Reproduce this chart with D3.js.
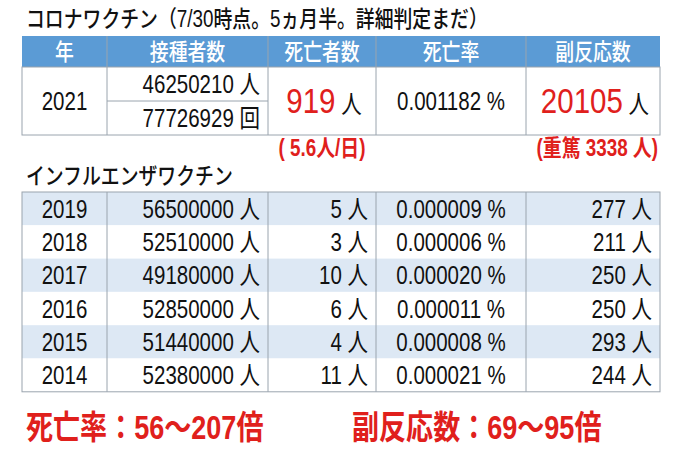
<!DOCTYPE html>
<html><head><meta charset="utf-8">
<script src="https://cdn.jsdelivr.net/npm/d3@7"></script>
<style>
body{margin:0;background:#fff}
text{font-family:"Liberation Sans","Noto Sans CJK JP",sans-serif}
</style></head>
<body><svg id="chart" width="680" height="453"></svg>
<script>
// data
const headers = ["年", "接種者数", "死亡者数", "死亡率", "副反応数"];
const covid = {year: "2021", vaccinated: ["46250210 人", "77726929 回"], deaths: "919", rate: "0.001182 %", adverse: "20105"};
const fluYears = ["2019", "2018", "2017", "2016", "2015", "2014"];
const fluVaccinated = [56500000, 52510000, 49180000, 52850000, 51440000, 52380000];
const fluDeaths = [5, 3, 10, 6, 4, 11];
const fluRate = ["0.000009", "0.000006", "0.000020", "0.000011", "0.000008", "0.000021"];
const fluAdverse = [277, 211, 250, 250, 293, 244];

let svg = d3.select("svg#chart");
const cols = [22, 107, 268, 376, 526, 660];
const red = "#e0201c", blue = "#5b9bd5", light = "#dde8f4", line = "#9aa4ae";
const cjk = "'Noto Sans CJK JP',sans-serif";
const sx = 0.82; // condensed look

// text helper: squeezed horizontally
function txt(x, y, s, size, anchor, fill) {
  return svg.append("text").attr("transform", "translate(" + x + "," + y + ") scale(" + sx + ",1)")
    .attr("font-size", size).attr("text-anchor", anchor || "start").attr("fill", fill || "#111").text(s);
}

// title
txt(26, 27, "コロナワクチン（7/30時点。5ヵ月半。詳細判定まだ）", 23).attr("font-family", cjk).attr("font-weight", 500);

// header
const hy = 36, hh = 31;
svg.append("rect").attr("x", cols[0]).attr("y", hy).attr("width", cols[5] - cols[0]).attr("height", hh).attr("fill", blue);
headers.forEach((h, i) => {
  txt((cols[i] + cols[i + 1]) / 2, hy + hh / 2 + 8, h, 23, "middle", "#fff").attr("font-family", cjk).attr("font-weight", 500);
});
// covid rows
const ry = hy + hh, rh = 34;
const mid = ry + rh;
svg.append("rect").attr("x", cols[0]).attr("y", ry).attr("width", cols[5] - cols[0]).attr("height", rh * 2)
  .attr("fill", "#fff").attr("stroke", line);
cols.slice(1, 5).forEach(c => svg.append("line").attr("x1", c).attr("x2", c).attr("y1", hy).attr("y2", ry + rh * 2).attr("stroke", line));
svg.append("line").attr("x1", cols[1]).attr("x2", cols[2]).attr("y1", mid).attr("y2", mid).attr("stroke", line);

txt((cols[0] + cols[1]) / 2, mid + 9, covid.year, 25, "middle");
covid.vaccinated.forEach((v, i) => txt(cols[2] - 8, ry + rh * i + rh / 2 + 9, v, 25, "end"));
let t = txt((cols[2] + cols[3]) / 2 + 2, mid + 12, "", 25, "middle");
t.append("tspan").attr("font-size", 36).attr("fill", red).text(covid.deaths);
t.append("tspan").text(" 人");
txt((cols[3] + cols[4]) / 2, mid + 9, covid.rate, 25, "middle");
t = txt((cols[4] + cols[5]) / 2 + 2, mid + 12, "", 25, "middle");
t.append("tspan").attr("font-size", 36).attr("fill", red).text(covid.adverse);
t.append("tspan").text(" 人");

txt((cols[2] + cols[3]) / 2, 156, "( 5.6人/日)", 23, "middle", red).attr("font-weight", "bold");
txt(cols[5] - 2, 156, "(重篤 3338 人)", 23, "end", red).attr("font-weight", "bold");

// influenza
txt(26, 184, "インフルエンザワクチン", 23).attr("font-family", cjk).attr("font-weight", 500);

const fy = 192, fh = 33.3;
const yScale = d3.scaleBand().domain(fluYears).range([fy, fy + fh * fluYears.length]);
fluYears.forEach((y, i) => {
  const top = yScale(y), base = top + yScale.bandwidth() / 2 + 9;
  svg.append("rect").attr("x", cols[0]).attr("y", top).attr("width", cols[5] - cols[0]).attr("height", yScale.bandwidth())
    .attr("fill", i % 2 === 0 ? light : "#fff");
  txt((cols[0] + cols[1]) / 2, base, y, 25, "middle");
  txt(cols[2] - 8, base, fluVaccinated[i] + " 人", 25, "end");
  txt(cols[3] - 8, base, fluDeaths[i] + " 人", 25, "end");
  txt((cols[3] + cols[4]) / 2, base, fluRate[i] + " %", 25, "middle");
  txt(cols[5] - 8, base, fluAdverse[i] + " 人", 25, "end");
});
const fb = fy + fh * fluYears.length;
svg.append("rect").attr("x", cols[0]).attr("y", fy).attr("width", cols[5] - cols[0]).attr("height", fb - fy)
  .attr("fill", "none").attr("stroke", line);
cols.slice(1, 5).forEach(c => svg.append("line").attr("x1", c).attr("x2", c).attr("y1", fy).attr("y2", fb).attr("stroke", line));

// conclusion
txt(26, 439, "死亡率：56～207倍", 33, "start", red).attr("font-weight", "bold");
txt(352, 439, "副反応数：69～95倍", 33, "start", red).attr("font-weight", "bold");
</script></body></html>
